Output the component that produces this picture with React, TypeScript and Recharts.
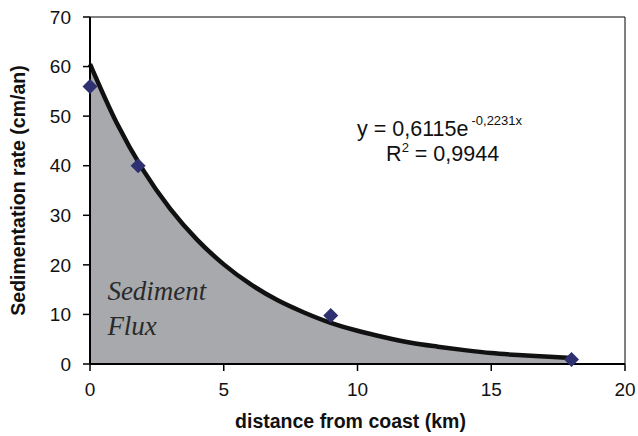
import React from 'react';
import { ComposedChart, Area, Scatter, XAxis, YAxis, ReferenceLine, ReferenceDot } from 'recharts';

const curveX = [0, 1, 2, 3, 4, 5, 6, 7, 8, 9, 10, 11, 12, 13, 14, 15, 16, 17, 18];
const curveY = [60.5, 48.6, 39.0, 31.3, 25.1, 20.1, 16.1, 12.9, 10.4, 8.3, 6.7, 5.4, 4.3, 3.5, 2.8, 2.2, 1.8, 1.5, 1.2];
const obsX = [0, 1.8, 9, 18];
const obsY = [56, 40, 9.8, 0.9];
const xTicks = [0, 5, 10, 15, 20];
const yTicks = [0, 10, 20, 30, 40, 50, 60, 70];

const curveData = curveX.map((x, i) => ({ x, fit: curveY[i] }));
const obsData = obsX.map((x, i) => ({ x, y: obsY[i] }));

const SANS = '"Liberation Sans", Arial, Helvetica, sans-serif';
const SERIF = '"Liberation Serif", "Times New Roman", serif';

const Diamond = (props: any) => {
  const { cx, cy } = props;
  const h = 7.5;
  return (
    <polygon
      points={`${cx},${cy - h} ${cx + h},${cy} ${cx},${cy + h} ${cx - h},${cy}`}
      fill="#2E3072"
    />
  );
};

const YTitle = (props: any) => {
  const vb = props.viewBox;
  const x = vb.x + 8;
  const y = vb.y + vb.height / 2;
  return (
    <text
      x={x}
      y={y}
      transform={`rotate(-90 ${x} ${y})`}
      textAnchor="middle"
      dominantBaseline="central"
      fontFamily={SANS}
      fontWeight="bold"
      fontSize={19.5}
      fill="#111"
    >
      Sedimentation rate (cm/an)
    </text>
  );
};

const XTitle = (props: any) => {
  const vb = props.viewBox;
  return (
    <text
      x={vb.x + vb.width / 2 - 7}
      y={vb.y + 64}
      textAnchor="middle"
      fontFamily={SANS}
      fontWeight="bold"
      fontSize={19.5}
      fill="#111"
    >
      distance from coast (km)
    </text>
  );
};

const Equation = (props: any) => {
  const vb = props.viewBox;
  const cx = vb.x + (vb.width || 0) / 2;
  const cy = vb.y + (vb.height || 0) / 2;
  return (
    <g fontFamily={SANS} fill="#111">
      <text x={cx - 86} y={cy} fontSize={21.5}>
        y = 0,6115e
        <tspan fontSize={13} dx={3} dy={-11}>-0,2231x</tspan>
      </text>
      <text x={cx - 57} y={cy + 25} fontSize={21.5}>
        R
        <tspan fontSize={13} dy={-9}>2</tspan>
        <tspan dy={9}> = 0,9944</tspan>
      </text>
    </g>
  );
};

const FluxLabel = (props: any) => {
  const vb = props.viewBox;
  const x = vb.x;
  const y = vb.y;
  return (
    <g fontFamily={SERIF} fontStyle="italic" fontSize={27} fill="#2a2a2a">
      <text x={x} y={y}>Sediment</text>
      <text x={x} y={y + 35}>Flux</text>
    </g>
  );
};

export default function App() {
  return (
    <div style={{ position: 'absolute', left: 0, top: 0, width: 638, height: 436, background: '#fff' }}>
      <ComposedChart
        width={638}
        height={436}
        data={curveData}
        margin={{ top: 17, right: 13, left: 10, bottom: 12 }}
      >
        <XAxis
          dataKey="x"
          type="number"
          domain={[0, 20]}
          ticks={xTicks}
          interval={0}
          height={60}
          tickSize={7}
          tickMargin={12}
          axisLine={{ stroke: '#000', strokeWidth: 2 }}
          tickLine={{ stroke: '#000', strokeWidth: 1.5 }}
          tick={{ fill: '#111', fontSize: 19, fontFamily: SANS }}
          label={<XTitle />}
        />
        <YAxis
          type="number"
          domain={[0, 70]}
          ticks={yTicks}
          interval={0}
          width={80}
          tickSize={7}
          tickMargin={12}
          axisLine={{ stroke: '#000', strokeWidth: 2 }}
          tickLine={{ stroke: '#000', strokeWidth: 1.5 }}
          tick={{ fill: '#111', fontSize: 19, fontFamily: SANS }}
          label={<YTitle />}
        />
        <ReferenceLine y={70} stroke="#000" strokeWidth={1} />
        <ReferenceLine x={20} stroke="#000" strokeWidth={1} />
        <Area
          type="monotone"
          dataKey="fit"
          stroke="#111"
          strokeWidth={4.5}
          fill="#A7A9AC"
          fillOpacity={1}
          isAnimationActive={false}
          dot={false}
          activeDot={false}
        />
        <Scatter data={obsData} dataKey="y" shape={<Diamond />} isAnimationActive={false} />
        <ReferenceDot x={13.2} y={46} r={0} fill="none" stroke="none" label={<Equation />} />
        <ReferenceDot x={0.65} y={13} r={0} fill="none" stroke="none" label={<FluxLabel />} />
      </ComposedChart>
    </div>
  );
}
